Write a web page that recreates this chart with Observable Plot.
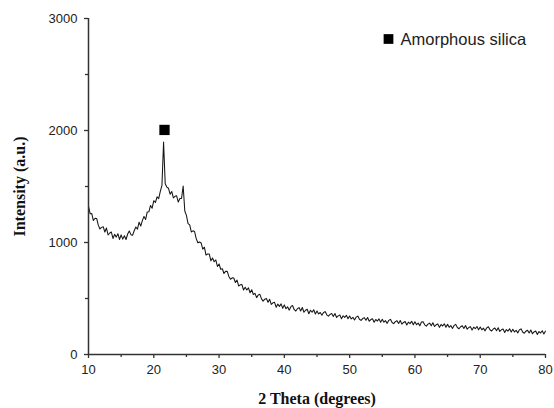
<!DOCTYPE html>
<html>
<head>
<meta charset="utf-8">
<script src="https://cdn.jsdelivr.net/npm/d3@7"></script>
<script src="https://cdn.jsdelivr.net/npm/@observablehq/plot@0.6"></script>
<style>
  html, body { margin: 0; padding: 0; background: #fff; }
  #chart { width: 554px; height: 408px; }
</style>
</head>
<body>
<div id="chart"></div>
<script>
// 2-theta grid: 10 to 80 degrees, 0.25 degree step (281 points)
const thetaStart = 10;
const thetaStep = 0.25;
// Intensity values (a.u.), one row per degree (4 values each), last row = 80
const intensity = [
  1323, 1257, 1258, 1196, // 10
  1216, 1215, 1155, 1121, // 11
  1135, 1141, 1094, 1129, // 12
  1067, 1085, 1093, 1036, // 13
  1073, 1048, 1078, 1027, // 14
  1068, 1030, 1060, 1027, // 15
  1076, 1103, 1070, 1064, // 16
  1105, 1138, 1119, 1181, // 17
  1147, 1195, 1233, 1206, // 18
  1273, 1274, 1331, 1306, // 19
  1373, 1357, 1408, 1391, // 20
  1456, 1510, 1896, 1525, // 21
  1495, 1484, 1431, 1456, // 22
  1398, 1412, 1417, 1361, // 23
  1392, 1393, 1504, 1281, // 24
  1242, 1168, 1157, 1094, // 25
  1104, 1098, 1035, 998,  // 26
  1005, 996, 941, 958,    // 27
  888, 897, 897, 836,     // 28
  862, 828, 844, 786,     // 29
  808, 761, 766, 723,     // 30
  742, 742, 697, 672,     // 31
  684, 683, 643, 664,     // 32
  612, 622, 624, 576,     // 33
  600, 576, 595, 551,     // 34
  578, 536, 546, 508,     // 35
  532, 537, 497, 477,     // 36
  494, 500, 466, 493,     // 37
  447, 461, 466, 422,     // 38
  450, 430, 452, 413,     // 39
  443, 409, 426, 396,     // 40
  427, 438, 402, 388,     // 41
  409, 419, 388, 420,     // 42
  377, 395, 404, 364,     // 43
  395, 377, 400, 362,     // 44
  389, 362, 375, 350,     // 45
  375, 383, 354, 342,     // 46
  358, 366, 340, 366,     // 47
  331, 345, 352, 320,     // 48
  346, 331, 350, 319,     // 49
  344, 318, 332, 308,     // 50
  334, 343, 315, 304,     // 51
  321, 329, 305, 331,     // 52
  297, 312, 319, 288,     // 53
  313, 299, 318, 288,     // 54
  314, 288, 302, 278,     // 55
  305, 314, 286, 275,     // 56
  293, 302, 277, 304,     // 57
  271, 286, 294, 263,     // 58
  289, 276, 296, 266,     // 59
  292, 266, 280, 256,     // 60
  290, 292, 265, 253,     // 61
  271, 280, 256, 283,     // 62
  250, 265, 273, 242,     // 63
  268, 254, 274, 243,     // 64
  269, 243, 258, 233,     // 65
  260, 269, 241, 230,     // 66
  248, 257, 233, 259,     // 67
  226, 241, 249, 218,     // 68
  244, 230, 250, 220,     // 69
  246, 220, 235, 211,     // 70
  238, 248, 221, 210,     // 71
  228, 237, 212, 239,     // 72
  206, 221, 228, 197,     // 73
  223, 209, 230, 200,     // 74
  226, 201, 216, 193,     // 75
  220, 229, 201, 190,     // 76
  208, 217, 192, 219,     // 77
  186, 201, 210, 179,     // 78
  205, 192, 212, 183,     // 79
  209                     // 80
];
const xTicks = [10, 20, 30, 40, 50, 60, 70, 80];
const xMinorTicks = [15, 25, 35, 45, 55, 65, 75];
const yTicks = [0, 1000, 2000, 3000];
const yMinorTicks = [500, 1500, 2500];
const peakMarker = [{theta: 21.64, value: 2005}];
const legendLabel = "Amorphous silica";
const xLabel = "2 Theta (degrees)";
const yLabel = "Intensity (a.u.)";

const data = intensity.map((v, i) => ({theta: thetaStart + i * thetaStep, value: v}));

const sans = "'Liberation Sans', Arial, sans-serif";
const serif = "'Liberation Serif', 'Times New Roman', serif";
const axisColor = "#333";

const chart = Plot.plot({
  width: 554,
  height: 408,
  marginLeft: 88,
  marginRight: 9,
  marginTop: 18,
  marginBottom: 54,
  x: {domain: [10, 80]},
  y: {domain: [0, 3000]},
  style: {background: "#fff", color: "#222"},
  marks: [
    Plot.line(data, {x: "theta", y: "value", stroke: "#151515", strokeWidth: 1.05}),
    Plot.dot(peakMarker, {x: "theta", y: "value", symbol: "square", r: 5.8, fill: "#000", stroke: "none"}),
    Plot.dot([0], {frameAnchor: "top-left", dx: 300, dy: 20.5, symbol: "square", r: 5.5, fill: "#000", stroke: "none"}),
    Plot.text([legendLabel], {frameAnchor: "top-left", dx: 312, dy: 21, text: d => d, textAnchor: "start", lineAnchor: "middle", fontSize: 16.5, fontFamily: sans, fill: "#222"}),
    Plot.axisX({ticks: xTicks, tickSize: 4, tickPadding: 6.5, tickFormat: d => String(d), fontSize: 13, fontFamily: sans, label: null, stroke: axisColor, strokeWidth: 1.3}),
    Plot.axisX({ticks: xMinorTicks, tickSize: 3, tickFormat: () => "", label: null, stroke: axisColor, strokeWidth: 1.3}),
    Plot.axisY({ticks: yTicks, tickSize: 4, tickPadding: 7, tickFormat: d => String(d), fontSize: 13, fontFamily: sans, label: null, stroke: axisColor, strokeWidth: 1.3}),
    Plot.axisY({ticks: yMinorTicks, tickSize: 3, tickFormat: () => "", label: null, stroke: axisColor, strokeWidth: 1.3}),
    Plot.ruleY([0], {stroke: axisColor, strokeWidth: 1.5}),
    Plot.ruleX([10], {stroke: axisColor, strokeWidth: 1.5}),
    Plot.text([xLabel], {frameAnchor: "bottom", dy: 49, text: d => d, lineAnchor: "bottom", fontSize: 16, fontWeight: "bold", fontFamily: serif, fill: "#111"}),
    Plot.text([yLabel], {frameAnchor: "left", dx: -64, text: d => d, rotate: -90, textAnchor: "middle", lineAnchor: "bottom", fontSize: 16, fontWeight: "bold", fontFamily: serif, fill: "#111"})
  ]
});
document.getElementById("chart").appendChild(chart);
</script>
</body>
</html>
